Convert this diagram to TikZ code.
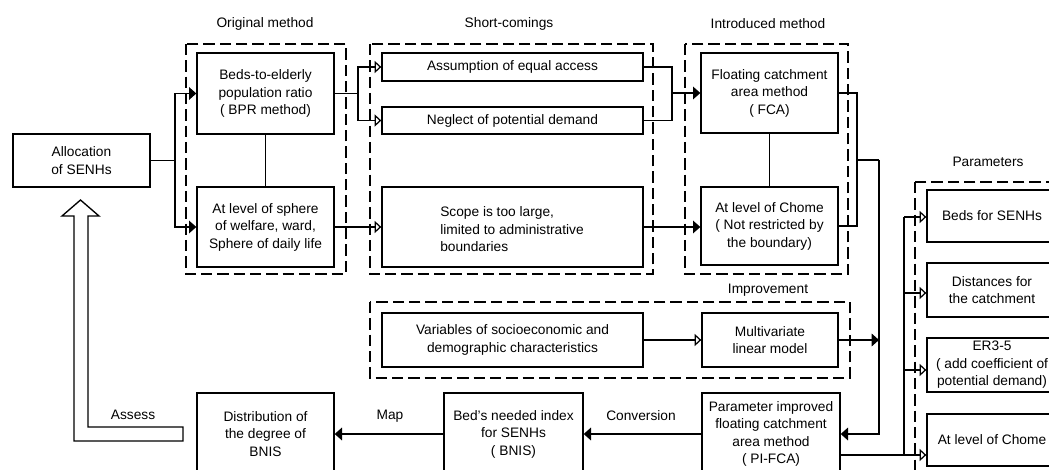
\documentclass[tikz,border=0pt]{standalone}
\usepackage{fontspec}
\setmainfont{Liberation Sans}
\usetikzlibrary{arrows.meta,calc}
\begin{document}
\begin{tikzpicture}[x=0.75pt,y=-0.75pt,
 font=\fontsize{10.3}{13.1}\selectfont,
 bx/.style n args={2}{draw, line width=1pt, minimum width=#1*0.75pt, minimum height=#2*0.75pt, inner sep=0pt, align=center},
 grp/.style={draw, line width=1pt, dash pattern=on 8.5pt off 3.75pt},
 ln/.style={line width=0.95pt},
 fa/.style={ln, -{Triangle[length=5.5pt,width=9.5pt]}},
 ha/.style={ln, -{Triangle[open,length=5pt,width=9pt]}},
 lbl/.style={inner sep=0pt, align=center}]
\useasboundingbox (0,0) rectangle (1049,470);
\clip (0,0) rectangle (1049,470);

% group frames
\draw[grp] (186,44) rectangle (346,274);
\draw[grp] (370,44) rectangle (653,274);
\draw[grp] (685,44) rectangle (848,274);
\draw[grp] (370,302) rectangle (850,378);
\draw[grp] (915,182) rectangle (1070,490);

% group labels
\node[lbl] (lorig) at (265,24) {Original method};
\node[lbl] (lshort) at (509,24) {Short-comings};
\node[lbl] (lintro) at (768,24) {Introduced method};
\node[lbl] (limp) at (768,290) {Improvement};
\node[lbl] (lpar) at (988,162) {Parameters};

% boxes
\node[bx={137}{53}] (alloc) at (81.5,160.5) {Allocation\\of SENHs};
\node[bx={137}{81}] (bpr) at (265.5,93.5) {Beds-to-elderly\\population ratio\\( BPR method)};
\node[bx={137}{80}] (sphere) at (265.5,227) {At level of sphere\\of welfare, ward,\\Sphere of daily life};
\node[bx={261}{28}] (assume) at (512.5,67) {Assumption of equal access};
\node[bx={261}{27}] (neglect) at (512.5,120.5) {Neglect of potential demand};
\node[bx={261}{80}] (scope) at (512.5,227) {};
\node[lbl, align=left, anchor=west] (scopet) at (440,229.5) {Scope is too large,\\limited to administrative\\boundaries};
\node[bx={137}{80}] (fca) at (769.5,93) {Floating catchment\\area method\\( FCA)};
\node[bx={137}{78}] (chome) at (769.5,226) {At level of Chome\\( Not restricted by\\the boundary)};
\node[bx={261}{54}] (vars) at (512.5,340) {Variables of socioeconomic and\\demographic characteristics};
\node[bx={136}{54}] (multi) at (770,340) {Multivariate\\linear model};
\node[bx={137}{82}] (dist) at (265.5,434) {Distribution of\\the degree of\\BNIS};
\node[bx={139}{82}] (bnis) at (513.5,434) {Bed's needed index\\for SENHs\\( BNIS)};
\node[bx={138}{82}] (pifca) at (771,434) {Parameter improved\\floating catchment\\area method\\( PI-FCA)};
\node[bx={130}{52}] (beds) at (992,216) {Beds for SENHs};
\node[bx={130}{54}] (dists) at (992,290) {Distances for\\the catchment};
\node[bx={130}{54}] (er) at (992,365) {ER3-5\\( add coefficient of\\potential demand)};
\node[bx={130}{52}] (pchome) at (992,440) {At level of Chome};

% connector labels
\node[lbl] (lassess) at (133,415) {Assess};
\node[lbl] (lmap) at (390,416) {Map};
\node[lbl] (lconv) at (641,416) {Conversion};

% junctions
\coordinate (j1) at (175,160.5);
\coordinate (j2) at (358,93.5);
\coordinate (j3) at (672,93);
\coordinate (j4) at (857,160);
\coordinate (j5) at (879,160);
\coordinate (pa) at (904,217);
\coordinate (pb) at (904,293);
\coordinate (pc) at (904,370);
\coordinate (pd) at (904,455);

% connectors
\draw[ln] (alloc.east) -- (j1);
\draw[fa] (j1) |- (bpr.west);
\draw[fa] (j1) |- (sphere.west);
\draw[ln] (bpr.south) -- (sphere.north);
\draw[ln] (bpr.east) -- (j2);
\draw[ha] (j2) |- (assume.west);
\draw[ha] (j2) |- (neglect.west);
\draw[ha] (sphere.east) -- (scope.west);
\draw[ln] (assume.east) -| (j3);
\draw[ln] (neglect.east) -| (j3);
\draw[fa] (j3) -- (fca.west);
\draw[fa] (scope.east) -- (scope.east -| chome.west);
\draw[ln] (fca.south) -- (chome.north);
\draw[ln] (fca.east) -| (j4);
\draw[ln] (chome.east) -| (j4);
\draw[ln] (j4) -- (j5);
\draw[fa] (j5) |- (pifca.east);
\draw[ha] (vars.east) -- (multi.west);
\draw[fa] (multi.east) -- (multi.east -| j5);
\draw[fa] (pifca.west) -- (bnis.east);
\draw[fa] (bnis.west) -- (dist.east);
\draw[ln] (pifca.east |- pd) -- (pd);
\draw[ln] (pa) -- (pd);
\draw[ha] (pa) -- (pa -| beds.west);
\draw[ha] (pb) -- (pb -| dists.west);
\draw[ha] (pc) -- (pc -| er.west);
\draw[ha] (pd) -- (pd -| pchome.west);

% hollow assess arrow
\draw[line width=1pt] (74,441) -- (74,216) -- (62,216) -- (80.5,200) -- (99,216) -- (88,216) -- (88,427) -- (183,427) -- (183,441) -- cycle;
\end{tikzpicture}
\end{document}
